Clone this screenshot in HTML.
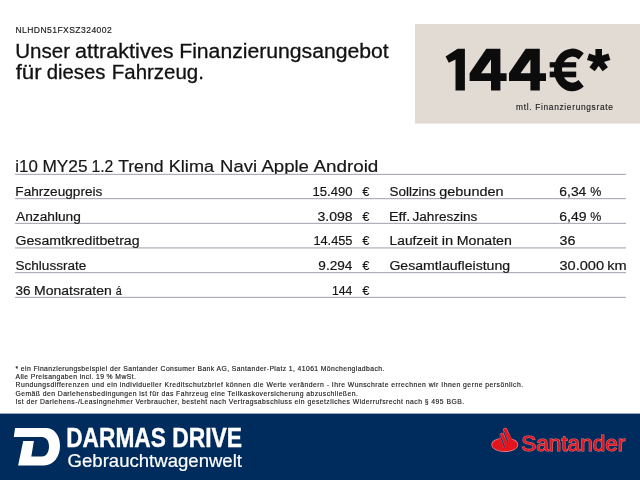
<!DOCTYPE html>
<html><head><meta charset="utf-8"><style>
html,body{margin:0;padding:0;background:#fff;width:640px;height:480px;overflow:hidden}
</style></head><body>
<svg width="640" height="480" viewBox="0 0 640 480" style="display:block;will-change:transform;font-family:'Liberation Sans', sans-serif"><text transform="translate(15.4,33.4) scale(0.9,1)" x="0" y="0" font-size="9.5" fill="#1e1e1e" stroke="#1e1e1e" stroke-width="0.2" textLength="107.00" lengthAdjust="spacing">NLHDN51FXSZ324002</text>
<text transform="translate(15.26,57.6) scale(0.9783,1)" x="0" y="0" font-size="21" fill="#111" stroke="#111" stroke-width="0.3">Unser</text>
<text transform="translate(75.03,57.6) scale(1.03,1)" x="0" y="0" font-size="21" fill="#111" stroke="#111" stroke-width="0.3">attraktives</text>
<text transform="translate(179.2,57.6) scale(1.0089,1)" x="0" y="0" font-size="21" fill="#111" stroke="#111" stroke-width="0.3">Finanzierungsangebot</text>
<text transform="translate(15.68,78.6) scale(1.0589,1)" x="0" y="0" font-size="21" fill="#111" stroke="#111" stroke-width="0.3">für</text>
<text transform="translate(46.69,78.6) scale(0.9693,1)" x="0" y="0" font-size="21" fill="#111" stroke="#111" stroke-width="0.3">dieses</text>
<text transform="translate(111.76,78.6) scale(0.9755,1)" x="0" y="0" font-size="21" fill="#111" stroke="#111" stroke-width="0.3">Fahrzeug.</text>
<rect x="415" y="24" width="225" height="99.6" fill="#e2dbd4"/>
<path d="M445.6,56.5 L457.6,48.7 L464.9,48.7 L464.9,90.4 L455.5,90.4 L455.5,59.6 L448.8,62.75 Z M486.3,48.7 L500.4,48.7 L500.4,73.2 L506.6,73.2 L506.6,81 L500.4,81 L500.4,90.4 L491,90.4 L491,81 L469.6,81 L469.6,73.2 Z M491,59.6 L481.1,73.2 L491,73.2 Z M525.7,48.7 L539.8,48.7 L539.8,73.2 L546.0,73.2 L546.0,81 L539.8,81 L539.8,90.4 L530.4,90.4 L530.4,81 L509.0,81 L509.0,73.2 Z M530.4,59.6 L520.5,73.2 L530.4,73.2 Z M583.75,53.25 A18.3,21.35 0 1 0 583.75,86.6 L578.5,80 A10.3,13 0 1 1 578.75,59.5 Z" fill="#0c0c0c" fill-rule="evenodd"/>
<rect x="549.7" y="62.2" width="26.5" height="5.2" fill="#0c0c0c"/>
<rect x="549.7" y="71.6" width="26.5" height="5.7" fill="#0c0c0c"/>
<g transform="translate(598.7,60.2)" fill="#0c0c0c"><rect x="-3.3" y="-11.2" width="6.6" height="11.2" transform="rotate(0)"/><rect x="-3.3" y="-11.2" width="6.6" height="11.2" transform="rotate(72)"/><rect x="-3.3" y="-11.2" width="6.6" height="11.2" transform="rotate(144)"/><rect x="-3.3" y="-11.2" width="6.6" height="11.2" transform="rotate(216)"/><rect x="-3.3" y="-11.2" width="6.6" height="11.2" transform="rotate(288)"/></g>
<text transform="translate(516.1,109.9) scale(0.9,1)" x="0" y="0" font-size="9.3" fill="#222" stroke="#222" stroke-width="0.15" textLength="107.56" lengthAdjust="spacing">mtl. Finanzierungsrate</text>
<text transform="translate(15.32,171.9) scale(0.976,1)" x="0" y="0" font-size="17.3" fill="#161616" stroke="#161616" stroke-width="0.2">i10</text>
<text transform="translate(42.42,171.9) scale(1.0005,1)" x="0" y="0" font-size="17.3" fill="#161616" stroke="#161616" stroke-width="0.2">MY25</text>
<text transform="translate(91.44,171.9) scale(0.9129,1)" x="0" y="0" font-size="17.3" fill="#161616" stroke="#161616" stroke-width="0.2">1.2</text>
<text transform="translate(118.15,171.9) scale(1.0191,1)" x="0" y="0" font-size="17.3" fill="#161616" stroke="#161616" stroke-width="0.2">Trend</text>
<text transform="translate(168.8,171.9) scale(1.045,1)" x="0" y="0" font-size="17.3" fill="#161616" stroke="#161616" stroke-width="0.2">Klima</text>
<text transform="translate(220.02,171.9) scale(1.0701,1)" x="0" y="0" font-size="17.3" fill="#161616" stroke="#161616" stroke-width="0.2">Navi</text>
<text transform="translate(261.4,171.9) scale(1.0755,1)" x="0" y="0" font-size="17.3" fill="#161616" stroke="#161616" stroke-width="0.2">Apple</text>
<text transform="translate(313.4,171.9) scale(1.0894,1)" x="0" y="0" font-size="17.3" fill="#161616" stroke="#161616" stroke-width="0.2">Android</text>
<rect x="15" y="173.80" width="611" height="1.2" fill="#adb1b7"/>
<rect x="15" y="198.00" width="611" height="1.2" fill="#adb1b7"/>
<rect x="15" y="222.80" width="611" height="1.2" fill="#adb1b7"/>
<rect x="15" y="247.30" width="611" height="1.2" fill="#adb1b7"/>
<rect x="15" y="272.00" width="611" height="1.2" fill="#adb1b7"/>
<rect x="15" y="296.80" width="611" height="1.2" fill="#adb1b7"/>
<text transform="translate(15.31,196.0) scale(1.0249,1)" x="0" y="0" font-size="13.3" fill="#161616" stroke="#161616" stroke-width="0.2">Fahrzeugpreis</text>
<text transform="translate(312.45,196.0) scale(0.9846,1)" x="0" y="0" font-size="13.3" fill="#161616" stroke="#161616" stroke-width="0.2">15.490</text>
<text transform="translate(362.38,196.0) scale(0.9221,1)" x="0" y="0" font-size="13.3" fill="#161616" stroke="#161616" stroke-width="0.2">€</text>
<text transform="translate(389.43,196.0) scale(1.0137,1)" x="0" y="0" font-size="13.3" fill="#161616" stroke="#161616" stroke-width="0.2">Sollzins</text>
<text transform="translate(439.32,196.0) scale(1.0845,1)" x="0" y="0" font-size="13.3" fill="#161616" stroke="#161616" stroke-width="0.2">gebunden</text>
<text transform="translate(559.3,196.0) scale(1.0454,1)" x="0" y="0" font-size="13.3" fill="#161616" stroke="#161616" stroke-width="0.2">6,34</text>
<text transform="translate(590.2,196.0) scale(0.9375,1)" x="0" y="0" font-size="13.3" fill="#161616" stroke="#161616" stroke-width="0.2">%</text>
<text transform="translate(16.0,220.68) scale(1.0326,1)" x="0" y="0" font-size="13.3" fill="#161616" stroke="#161616" stroke-width="0.2">Anzahlung</text>
<text transform="translate(317.44,220.68) scale(1.0564,1)" x="0" y="0" font-size="13.3" fill="#161616" stroke="#161616" stroke-width="0.2">3.098</text>
<text transform="translate(362.38,220.68) scale(0.9221,1)" x="0" y="0" font-size="13.3" fill="#161616" stroke="#161616" stroke-width="0.2">€</text>
<text transform="translate(388.95,220.68) scale(1.0848,1)" x="0" y="0" font-size="13.3" fill="#161616" stroke="#161616" stroke-width="0.2">Eff.</text>
<text transform="translate(412.48,220.68) scale(1.0219,1)" x="0" y="0" font-size="13.3" fill="#161616" stroke="#161616" stroke-width="0.2">Jahreszins</text>
<text transform="translate(559.3,220.68) scale(1.0567,1)" x="0" y="0" font-size="13.3" fill="#161616" stroke="#161616" stroke-width="0.2">6,49</text>
<text transform="translate(590.2,220.68) scale(0.9375,1)" x="0" y="0" font-size="13.3" fill="#161616" stroke="#161616" stroke-width="0.2">%</text>
<text transform="translate(15.49,245.35) scale(1.0628,1)" x="0" y="0" font-size="13.3" fill="#161616" stroke="#161616" stroke-width="0.2">Gesamtkreditbetrag</text>
<text transform="translate(313.38,245.35) scale(0.9616,1)" x="0" y="0" font-size="13.3" fill="#161616" stroke="#161616" stroke-width="0.2">14.455</text>
<text transform="translate(362.38,245.35) scale(0.9221,1)" x="0" y="0" font-size="13.3" fill="#161616" stroke="#161616" stroke-width="0.2">€</text>
<text transform="translate(389.6,245.35) scale(1.0355,1)" x="0" y="0" font-size="13.3" fill="#161616" stroke="#161616" stroke-width="0.2">Laufzeit</text>
<text transform="translate(441.77,245.35) scale(1.1043,1)" x="0" y="0" font-size="13.3" fill="#161616" stroke="#161616" stroke-width="0.2">in</text>
<text transform="translate(456.67,245.35) scale(1.0667,1)" x="0" y="0" font-size="13.3" fill="#161616" stroke="#161616" stroke-width="0.2">Monaten</text>
<text transform="translate(559.43,245.35) scale(1.0767,1)" x="0" y="0" font-size="13.3" fill="#161616" stroke="#161616" stroke-width="0.2">36</text>
<text transform="translate(15.52,270.02) scale(1.0194,1)" x="0" y="0" font-size="13.3" fill="#161616" stroke="#161616" stroke-width="0.2">Schlussrate</text>
<text transform="translate(318.32,270.02) scale(1.0253,1)" x="0" y="0" font-size="13.3" fill="#161616" stroke="#161616" stroke-width="0.2">9.294</text>
<text transform="translate(362.38,270.02) scale(0.9221,1)" x="0" y="0" font-size="13.3" fill="#161616" stroke="#161616" stroke-width="0.2">€</text>
<text transform="translate(389.39,270.02) scale(1.0615,1)" x="0" y="0" font-size="13.3" fill="#161616" stroke="#161616" stroke-width="0.2">Gesamtlaufleistung</text>
<text transform="translate(559.42,270.02) scale(1.0975,1)" x="0" y="0" font-size="13.3" fill="#161616" stroke="#161616" stroke-width="0.2">30.000</text>
<text transform="translate(607.23,270.02) scale(1.0965,1)" x="0" y="0" font-size="13.3" fill="#161616" stroke="#161616" stroke-width="0.2">km</text>
<text transform="translate(15.56,294.7) scale(1.0147,1)" x="0" y="0" font-size="13.3" fill="#161616" stroke="#161616" stroke-width="0.2">36</text>
<text transform="translate(34.08,294.7) scale(1.0521,1)" x="0" y="0" font-size="13.3" fill="#161616" stroke="#161616" stroke-width="0.2">Monatsraten</text>
<text transform="translate(115.77,294.7) scale(0.8097,1)" x="0" y="0" font-size="13.3" fill="#161616" stroke="#161616" stroke-width="0.2">á</text>
<text transform="translate(332.03,294.7) scale(0.9158,1)" x="0" y="0" font-size="13.3" fill="#161616" stroke="#161616" stroke-width="0.2">144</text>
<text transform="translate(362.38,294.7) scale(0.9221,1)" x="0" y="0" font-size="13.3" fill="#161616" stroke="#161616" stroke-width="0.2">€</text>
<text x="15.5" y="370.5" font-size="6.8" fill="#222" stroke="#222" stroke-width="0.15" textLength="368.80" lengthAdjust="spacing">* ein Finanzierungsbeispiel der Santander Consumer Bank AG, Santander-Platz 1, 41061 Mönchengladbach.</text>
<text x="15.5" y="378.95" font-size="6.8" fill="#222" stroke="#222" stroke-width="0.15" textLength="120.30" lengthAdjust="spacing">Alle Preisangaben incl. 19 % MwSt.</text>
<text x="15.5" y="387.4" font-size="6.8" fill="#222" stroke="#222" stroke-width="0.15" textLength="507.60" lengthAdjust="spacing">Rundungsdifferenzen und ein individueller Kreditschutzbrief können die Werte verändern - Ihre Wunschrate errechnen wir Ihnen gerne persönlich.</text>
<text x="15.5" y="395.85" font-size="6.8" fill="#222" stroke="#222" stroke-width="0.15" textLength="342.30" lengthAdjust="spacing">Gemäß den Darlehensbedingungen ist für das Fahrzeug eine Teilkaskoversicherung abzuschließen.</text>
<text x="15.5" y="404.3" font-size="6.8" fill="#222" stroke="#222" stroke-width="0.15" textLength="448.60" lengthAdjust="spacing">Ist der Darlehens-/Leasingnehmer Verbraucher, besteht nach Vertragsabschluss ein gesetzliches Widerrufsrecht nach § 495 BGB.</text>
<rect x="0" y="413.6" width="640" height="66.4" fill="#002b5d"/>
<path d="M15.1,428 L46,428 C54,428 60,435 60,446 C60,457 53,465.5 44,465.5 L18.1,465.5 L23.2,441 L33.9,441 L31.3,456.4 L42,456.4 C46.5,456.4 49,452 49,446.5 C49,440.5 46,437 42,437 L13.8,437 Z" fill="#fff"/>
<text transform="translate(66.21,446.6) scale(0.8319,1)" x="0" y="0" font-size="27.3" font-weight="bold" fill="#fff" stroke="#fff" stroke-width="0.4">DARMAS</text>
<text transform="translate(172.15,446.6) scale(0.8381,1)" x="0" y="0" font-size="27.3" font-weight="bold" fill="#fff" stroke="#fff" stroke-width="0.4">DRIVE</text>
<text transform="translate(67.6,466.6) scale(0.998,1)" x="0" y="0" font-size="18.6" fill="#fff" stroke="#fff" stroke-width="0.2">Gebrauchtwagenwelt</text>
<g><ellipse cx="504.8" cy="444.7" rx="12.9" ry="6.7" fill="#e9757b" stroke="#e9757b" stroke-width="1.1"/><line x1="505.2" y1="430.0" x2="510.2" y2="440.6" stroke="#e9757b" stroke-width="4.3" stroke-linecap="round"/><line x1="501.9" y1="434.9" x2="505.9" y2="445.2" stroke="#e9757b" stroke-width="4.3" stroke-linecap="round"/><ellipse cx="504.8" cy="444.7" rx="12.6" ry="6.4" fill="#e3151c"/><line x1="505.2" y1="430.0" x2="510.2" y2="440.6" stroke="#e3151c" stroke-width="3.2" stroke-linecap="round"/><line x1="501.9" y1="434.9" x2="505.9" y2="445.2" stroke="#e3151c" stroke-width="3.2" stroke-linecap="round"/><path d="M506.6,432 L512.6,439.3 L505,441.5 Z" fill="#e3151c"/><path d="M499,439.2 L500.6,435.3 L503.8,445.5 L499.5,445 Z" fill="#e3151c"/><line x1="503.5" y1="431.2" x2="507.9" y2="442.3" stroke="#e9757b" stroke-width="1.7"/><line x1="503.5" y1="431.2" x2="507.9" y2="442.3" stroke="#1a2a5e" stroke-width="1.1"/><line x1="500.2" y1="435.4" x2="504.6" y2="447.2" stroke="#e9757b" stroke-width="1.7"/><line x1="500.2" y1="435.4" x2="504.6" y2="447.2" stroke="#1a2a5e" stroke-width="1.1"/></g>
<text transform="translate(521.2,450.65) scale(0.99,1)" x="0" y="0" font-size="22.8" fill="#e3151c" stroke="#e9757b" stroke-width="1.1" paint-order="stroke">Santander</text></svg>
</body></html>
